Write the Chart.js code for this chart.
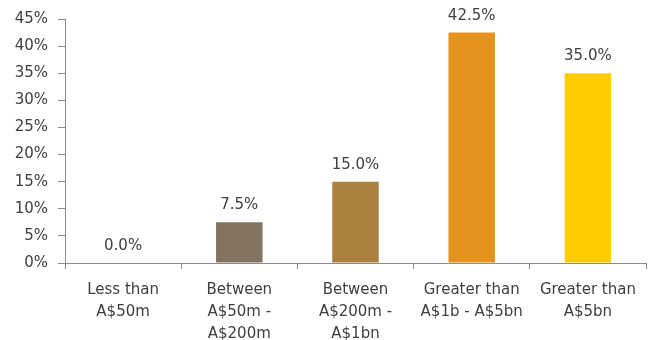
<!DOCTYPE html>
<html><head><meta charset="utf-8">
<script src="https://cdn.jsdelivr.net/npm/chart.js@4/dist/chart.umd.min.js"></script>
<style>html,body{margin:0;padding:0;background:#fff}#wrap{width:654px;height:340px}</style>
</head><body><div id="wrap"><canvas id="c" width="654" height="340"></canvas></div>
<script>
const categories = [["Less than","A$50m"],["Between","A$50m -","A$200m"],["Between","A$200m -","A$1bn"],["Greater than","A$1b - A$5bn"],["Greater than","A$5bn"]];
const values = [0.0, 7.5, 15.0, 42.5, 35.0];
const barColors = ["#857360","#857360","#A9823F","#E4941E","#FFCC00"];
const yTicks = [0,5,10,15,20,25,30,35,40,45];

const FONT = "'DejaVu Sans', sans-serif";
const labelPlugin = {
  id: 'valLabels',
  afterDatasetsDraw(chart){
    const ctx = chart.ctx;
    const meta = chart.getDatasetMeta(0);
    ctx.save();
    ctx.font = "15px " + FONT;
    ctx.fillStyle = "#404040";
    ctx.textAlign = "center";
    ctx.textBaseline = "alphabetic";
    meta.data.forEach((bar, i) => {
      ctx.fillText(values[i].toFixed(1) + "%", bar.x, bar.y - 13);
    });
    ctx.restore();
  }
};

new Chart(document.getElementById('c'), {
  type: 'bar',
  data: { labels: categories, datasets: [{ data: values, backgroundColor: barColors, categoryPercentage: 1.0, barPercentage: 0.4 }] },
  options: {
    responsive: false, animation: false,
    layout: { padding: { top: 19, right: 8, left: 0, bottom: 0 } },
    plugins: { legend: { display: false }, tooltip: { enabled: false } },
    scales: {
      x: {
        grid: { display: true, drawOnChartArea: false, offset: true, tickLength: 6, color: "#8c8c8c", tickColor: "#8c8c8c" },
        border: { color: "#8c8c8c", width: 1 },
        ticks: { font: { family: FONT, size: 15, lineHeight: 1.47 }, color: "#404040", maxRotation: 0, autoSkip: false, padding: 10 },
        afterFit(s){ s.height = 77; }
      },
      y: {
        min: 0, max: 45,
        afterBuildTicks(s){ s.ticks = yTicks.map(v => ({ value: v })); },
        grid: { display: true, drawOnChartArea: false, tickLength: 7, color: "#8c8c8c", tickColor: "#8c8c8c" },
        border: { color: "#8c8c8c", width: 1 },
        ticks: { font: { family: FONT, size: 15 }, color: "#404040", padding: 10, callback: v => v + "%" },
        afterFit(s){ s.width = 65; }
      }
    }
  },
  plugins: [labelPlugin]
});
</script></body></html>
